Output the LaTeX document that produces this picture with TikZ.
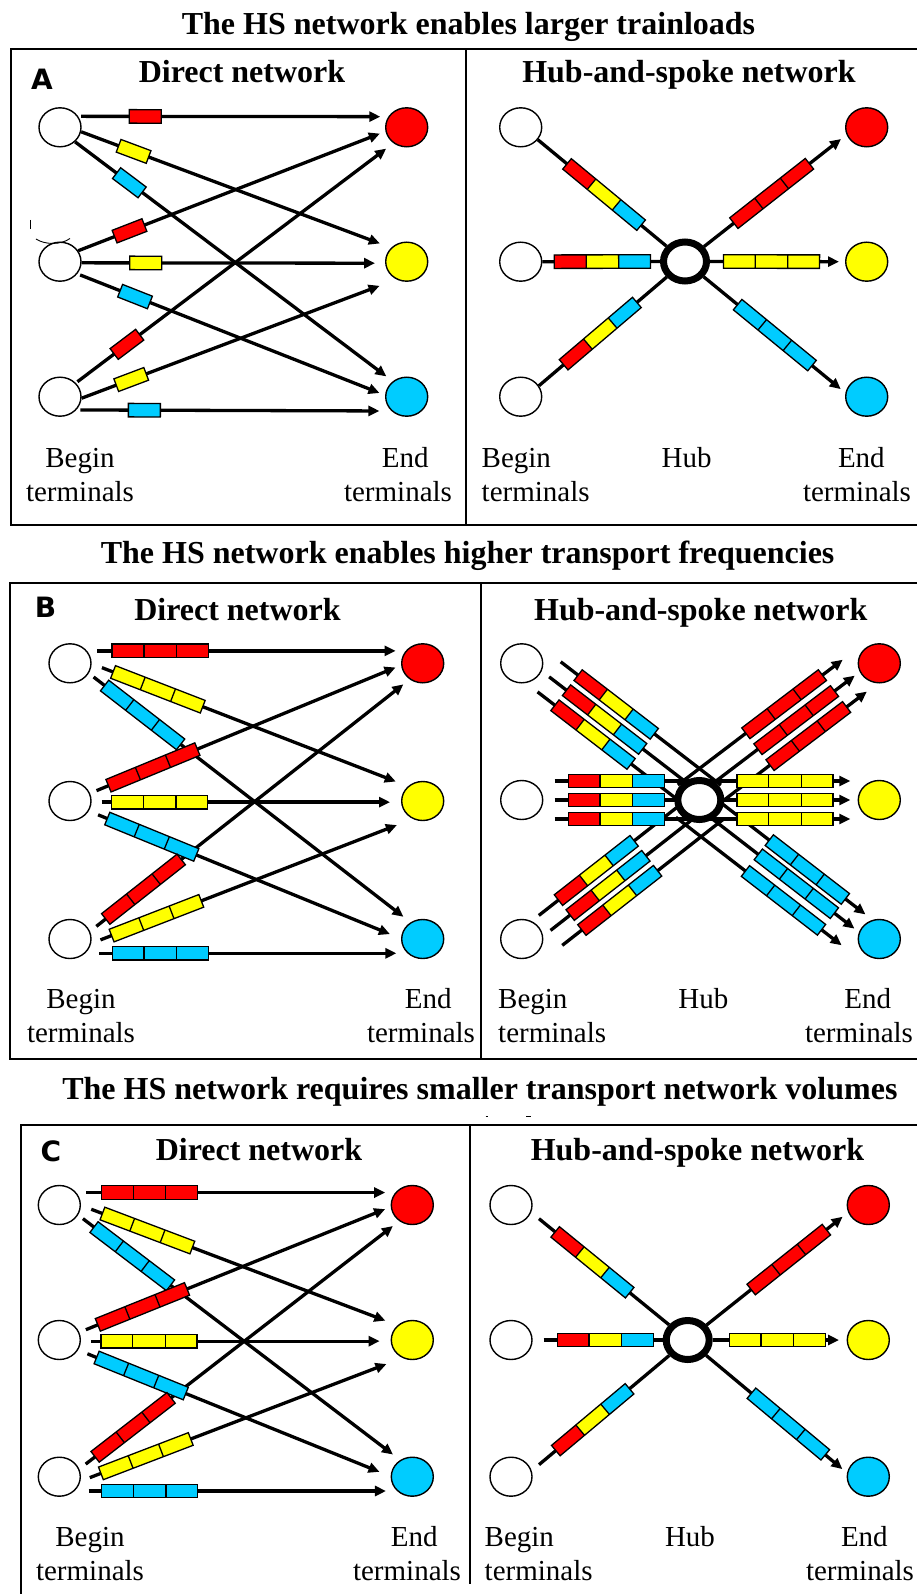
\documentclass[tikz,border=0pt]{standalone}
\usepackage{fontspec}
\setmainfont{Liberation Serif}
\newfontfamily\letterfont{DejaVu Sans}
\usetikzlibrary{arrows.meta, calc, shapes.geometric, shapes.multipart, decorations.markings}
\definecolor{cRed}{HTML}{FF0000}
\definecolor{cYel}{HTML}{FFFF00}
\definecolor{cBlu}{HTML}{00CCFF}
\pgfdeclarelayer{back}
\pgfsetlayers{back,main}

% direct links: begin/angle/gap/end/angle/gap/train distance/colour
\newcommand\linksBC{1/36/10/1/144/10/73/cRed, 1/-1/11/2/135/13/71/cYel,
  1/-28/6/3/126/9/68/cBlu, 2/21/7/1/-175/6/68/cRed, 2/-3/10/2/-177/11/68/cYel,
  2/-28/10/3/179/12/68/cBlu, 3/21/8/1/-129/8/68/cRed, 3/-12/10/2/-119/17/70/cYel,
  3/-43/14/3/-137/11/75/cBlu}

\begin{document}
\begin{tikzpicture}[
    x=1pt, y=-1pt,
    frame/.style={draw, line width=1.6pt},
    ttl/.style={font=\fontsize{32}{38}\selectfont\bfseries, anchor=base, inner sep=0pt},
    sub/.style={font=\fontsize{32}{38}\selectfont\bfseries, anchor=base, inner sep=0pt},
    lbl/.style={font=\fontsize{29}{34}\selectfont, align=center, anchor=base, inner sep=0pt},
    letter/.style={font=\fontsize{28}{32}\letterfont\bfseries, inner sep=0pt},
    beg/.style={draw, ellipse, line width=1.4pt, minimum width=42pt,
                minimum height=39pt, inner sep=0pt, fill=white},
    fin/.style={beg, fill=#1},
    hubring/.style={draw, ellipse, line width=7pt, minimum width=43pt,
                    minimum height=39pt, inner sep=0pt, fill=white},
    link/.style={line width=3.3pt, -{Triangle[length=11pt, width=10pt]}},
    spoke/.style={line width=3.3pt},
    car/.style={draw, line width=1.3pt, minimum width=32pt, minimum height=13.5pt,
                inner sep=0pt, fill=#1},
    train/.style={draw, line width=1.3pt, rectangle split, rectangle split horizontal,
                  rectangle split parts=3, rectangle split ignore empty parts=false,
                  rectangle split empty part width=26.6pt,
                  rectangle split empty part height=6.75pt,
                  rectangle split empty part depth=6.75pt, inner sep=0pt},
    carry/.style 2 args={decorate, decoration={markings, mark=at position #1 with {#2}}},
]
\useasboundingbox (0,0) rectangle (917,1594);

% ===================== A: larger trainloads =====================
\node[ttl] (ttlA) at (468.5,34.5) {The HS network enables larger trainloads};
\draw[frame] (11,49) rectangle (935,525);
\draw[frame] (466,49) -- (466,525);
\node[letter] (letA) at (42,79.5) {A};
\node[sub] (subA1) at (242,82.7) {Direct network};
\node[sub] (subA2) at (689,82.7) {Hub-and-spoke network};

\foreach \k/\y/\c in {1/127.3/cRed, 2/261.7/cYel, 3/396.7/cBlu} {
    \node[beg] (A-b\k) at (60,\y) {};
    \node[fin=\c] (A-e\k) at (406.7,\y) {};
    \node[beg] (A-hb\k) at (520.7,\y) {};
    \node[fin=\c] (A-he\k) at (866.7,\y) {};
}
\node[hubring] (A-hub) at (685,261.5) {};

\node[lbl] (A-lb1) at (80,501.7) {Begin\\terminals};
\node[lbl] (A-lb2) at (398,501.7) {\hspace*{0.5em}End\\terminals};
\node[lbl, align=left, anchor=base west] (A-lb3) at (481.5,501.7) {Begin\\terminals};
\node[lbl] (A-lb4) at (686.7,467.7) {Hub};
\node[lbl] (A-lb5) at (857,501.7) {\hspace*{0.3em}End\\terminals};

% stray marks of the source
\draw[line width=0.9pt] (36,239) .. controls (45,245) and (61,245) .. (70,238.5);
\draw[line width=0.9pt] (30.7,220) -- (30.7,229);

\begin{pgfonlayer}{back}
\foreach \i/\sa/\ssh/\j/\ea/\esh/\d/\p in {1/31/3/1/150/8/67/cRed,
    1/-12/0/2/138/12/56/cYel, 1/-44/0/3/132/8/68/cBlu, 2/31/0/1/-169/6/55/cRed,
    2/-3/0/2/-176/10/64/cYel, 2/-35/3/3/176/6/62/cBlu, 3/41/2/1/-130/9/64/cRed,
    3/-4/0/2/-120/18/53/cYel, 3/-39/4/3/-137/12/68/cBlu} {
    \draw[link, shorten <=\ssh pt, shorten >=\esh pt] (A-b\i.\sa) -- (A-e\j.\ea);
    \path[carry={\d pt}{\node[car=\p, transform shape] {};}] (A-b\i.\sa) -- (A-e\j.\ea);
}

\foreach \s/\d in {A-hb1.-36/86, A-hb2/60, A-hb3.31/80.5} {
    \draw[spoke] (\s) -- (A-hub);
    \path[carry={\d pt}{\node[train, transform shape,
        rectangle split part fill={cRed,cYel,cBlu}] {};}] (\s) -- (A-hub);
}
\foreach \t/\esh/\d/\p in {A-he1.200/7/86/cRed, A-he2/6/61.5/cYel, A-he3.170/6/92/cBlu} {
    \draw[link, shorten >=\esh pt] (A-hub) -- (\t);
    \path[carry={\d pt}{\node[train, transform shape,
        rectangle split part fill={\p,\p,\p}] {};}] (A-hub) -- (\t);
}
\end{pgfonlayer}

% ===================== B: higher frequencies =====================
\node[ttl] (ttlB) at (467.6,563.1) {The HS network enables higher transport frequencies};
\draw[frame] (10,582.7) rectangle (935,1059);
\draw[frame] (481,582.7) -- (481,1059);
\node[letter] (letB) at (45.5,607.5) {B};
\node[sub] (subB1) at (237.5,620.7) {Direct network};
\node[sub] (subB2) at (700.8,620.7) {Hub-and-spoke network};

\foreach \k/\y/\c in {1/663.3/cRed, 2/801/cYel, 3/939/cBlu} {
    \node[beg] (B-b\k) at (70,\y) {};
    \node[fin=\c] (B-e\k) at (422.7,\y) {};
}
\foreach \k/\y/\c in {1/663.3/cRed, 2/800/cYel, 3/939/cBlu} {
    \node[beg] (B-hb\k) at (521.7,\y) {};
    \node[fin=\c] (B-he\k) at (879.3,\y) {};
}
\node[hubring] (B-hub) at (699.3,800) {};

\node[lbl] (B-lb1) at (81,1042.7) {Begin\\terminals};
\node[lbl] (B-lb2) at (421,1042.7) {\hspace*{0.5em}End\\terminals};
\node[lbl, align=left, anchor=base west] (B-lb3) at (498,1042.7) {Begin\\terminals};
\node[lbl] (B-lb4) at (703.3,1008.3) {Hub};
\node[lbl] (B-lb5) at (859,1042.7) {\hspace*{0.6em}End\\terminals};

% ===================== C: smaller volumes =====================
\node[ttl] (ttlC) at (479.9,1099.5) {The HS network requires smaller transport network volumes};
\draw[line width=0.8pt] (485.5,1116) -- (487.8,1116);
\draw[line width=0.8pt] (526,1116.5) -- (530.5,1116.5);
\draw[frame] (21,1125) rectangle (935,1620);
\draw[frame] (470,1125) -- (470,1584);
\node[letter] (letC) at (51,1151) {C};
\node[sub] (subC1) at (259,1160) {Direct network};
\node[sub] (subC2) at (697.5,1160) {Hub-and-spoke network};

\foreach \k/\y/\c in {1/1205/cRed, 2/1340/cYel, 3/1476.7/cBlu} {
    \node[beg] (C-b\k) at (59.3,\y) {};
    \node[fin=\c] (C-e\k) at (412.3,\y) {};
    \node[beg] (C-hb\k) at (511,\y) {};
    \node[fin=\c] (C-he\k) at (868.3,\y) {};
}
\node[hubring] (C-hub) at (687.7,1340) {};

\node[lbl] (C-lb1) at (90,1580.7) {Begin\\terminals};
\node[lbl] (C-lb2) at (407,1580.7) {\hspace*{0.5em}End\\terminals};
\node[lbl, align=left, anchor=base west] (C-lb3) at (484.5,1580.7) {Begin\\terminals};
\node[lbl] (C-lb4) at (690,1546.7) {Hub};
\node[lbl] (C-lb5) at (860,1580.7) {\hspace*{0.3em}End\\terminals};

\begin{pgfonlayer}{back}
% direct networks of B and C are the same drawing
\foreach \P in {B,C} {
    \foreach \i/\sa/\ssh/\j/\ea/\esh/\d/\p in \linksBC {
        \draw[link, shorten <=\ssh pt, shorten >=\esh pt] (\P-b\i.\sa) -- (\P-e\j.\ea);
    }
    \foreach \i/\sa/\ssh/\j/\ea/\esh/\d/\p in \linksBC {
        \path[carry={\d pt}{\node[train, transform shape,
            rectangle split part fill={\p,\p,\p}] {};}] (\P-b\i.\sa) -- (\P-e\j.\ea);
    }
}

% B hub: three parallel tracks per spoke
\foreach \s/\o/\a/\d in {1/25/30/100, 1/6/30/100, 1/-13/30/100, 2/19/33/94.6,
    2/0/33/94.6, 2/-19/33/94.6, 3/8/28/101, 3/-11/28/101, 3/-30/28/101} {
    \draw[spoke, shorten <=\a pt, shorten >=-8pt]
        ($(B-hb\s)!\o pt!90:(B-hub)$) -- ($(B-hub)!\o pt!-90:(B-hb\s)$);
}
\foreach \t/\o/\esh/\d in {1/25/27/125.5, 1/5/27/125.5, 1/-15/27/125.5, 2/19/29/85.7,
    2/0/29/85.7, 2/-19/29/85.7, 3/11/26/128, 3/-7/26/128, 3/-28/26/128} {
    \draw[link, shorten <=-8pt, shorten >=\esh pt]
        ($(B-hub)!\o pt!90:(B-he\t)$) -- ($(B-he\t)!\o pt!-90:(B-hub)$);
}
\foreach \s/\o/\a/\d in {1/25/30/100, 1/6/30/100, 1/-13/30/100, 2/19/33/94.6,
    2/0/33/94.6, 2/-19/33/94.6, 3/8/28/101, 3/-11/28/101, 3/-30/28/101} {
    \path[carry={\d pt}{\node[train, transform shape,
        rectangle split part fill={cRed,cYel,cBlu}] {};}]
        ($(B-hb\s)!\o pt!90:(B-hub)$) -- ($(B-hub)!\o pt!-90:(B-hb\s)$);
}
\foreach \t/\o/\d/\p in {1/25/125.5/cRed, 1/5/125.5/cRed, 1/-15/125.5/cRed,
    2/19/85.7/cYel, 2/0/85.7/cYel, 2/-19/85.7/cYel, 3/11/128/cBlu, 3/-7/128/cBlu,
    3/-28/128/cBlu} {
    \path[carry={\d pt}{\node[train, transform shape,
        rectangle split part fill={\p,\p,\p}] {};}]
        ($(B-hub)!\o pt!90:(B-he\t)$) -- ($(B-he\t)!\o pt!-90:(B-hub)$);
}

% C hub: one track per spoke
\foreach \s/\ssh/\d in {C-hb1.-20/10/79, C-hb2/11/72.6, C-hb3.16/9.5/79.5} {
    \draw[spoke, shorten <=\ssh pt] (\s) -- (C-hub);
    \path[carry={\d pt}{\node[train, transform shape,
        rectangle split part fill={cRed,cYel,cBlu}] {};}] (\s) -- (C-hub);
}
\foreach \t/\esh/\d/\p in {C-he1.200/7/105/cRed, C-he2/7.6/64.6/cYel, C-he3.170/6/107/cBlu} {
    \draw[link, shorten >=\esh pt] (C-hub) -- (\t);
    \path[carry={\d pt}{\node[train, transform shape,
        rectangle split part fill={\p,\p,\p}] {};}] (C-hub) -- (\t);
}
\end{pgfonlayer}

\end{tikzpicture}
\end{document}
